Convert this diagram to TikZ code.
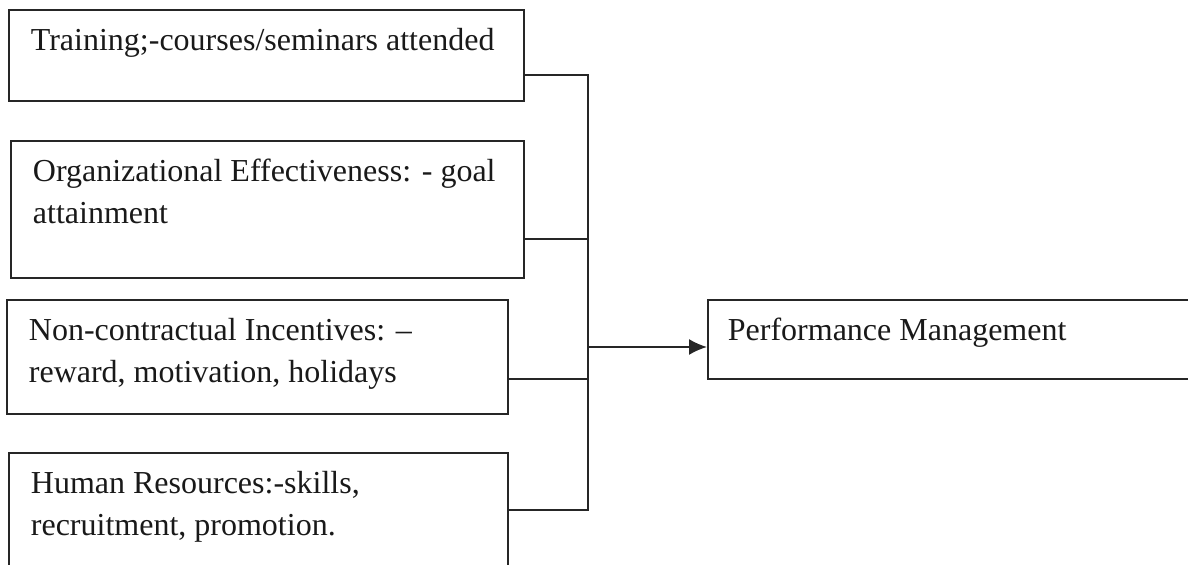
\documentclass[tikz,border=0pt]{standalone}
\usepackage{fontspec}
\setmainfont{Liberation Serif}
\usetikzlibrary{arrows.meta}
\newcommand{\factortext}[3]{\parbox[c][#2][t]{#1}{\rule{0pt}{20.5pt}#3}}

\begin{document}
\begin{tikzpicture}[x=0.5pt,y=-0.5pt,>={Latex[length=9pt,width=8pt]}]
  \tikzstyle{factor}=[rectangle,draw=black!85,text=black!90,line width=0.9pt,anchor=north west,inner xsep=11pt,inner ysep=0pt]
  \tikzstyle{link}=[draw=black!85,line width=0.9pt]

\useasboundingbox (0,0) rectangle (1188,565);
\clip (0,0) rectangle (1188,565);

\begin{scope}[font=\fontsize{16}{21}\selectfont]
\node [factor] (train) at (8,9) {\factortext{235.5pt}{45.5pt}{Training;-courses/seminars attended}};
\node [factor] (org) at (10,140) {\factortext{234.5pt}{68.5pt}{Organizational Effectiveness: - goal\\attainment}};
\node [factor] (nc) at (6,299) {\factortext{228.5pt}{57pt}{Non-contractual Incentives: –\\reward, motivation, holidays}};
\node [factor] (hr) at (8,452) {\factortext{227.5pt}{74pt}{Human Resources:-skills,\\recruitment, promotion.}};
\node [factor,inner xsep=10pt] (pm) at (707,299) {\factortext{236.5pt}{39.5pt}{Performance Management}};

\coordinate (jt) at (588,75);
\coordinate (jo) at (588,239);
\coordinate (jn) at (588,379);
\coordinate (jh) at (588,510);
\coordinate (ja) at (588,347);
\draw [link] (train.east |- jt) -- (jt) -- (jh) -- (hr.east |- jh);
\draw [link] (org.east |- jo) -- (jo);
\draw [link] (nc.east |- jn) -- (jn);
\draw [link,->] (ja) -- (pm.west |- ja);
\end{scope}
\end{tikzpicture}
\end{document}
